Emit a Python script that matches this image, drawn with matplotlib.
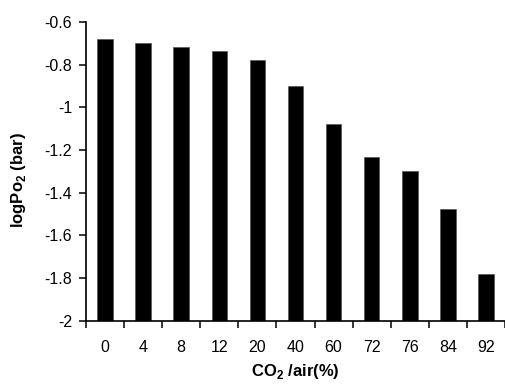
import matplotlib
matplotlib.use("Agg")
import matplotlib.pyplot as plt
import numpy as np

categories = ["0", "4", "8", "12", "20", "40", "60", "72", "76", "84", "92"]
values = [-0.68, -0.70, -0.72, -0.735, -0.78, -0.90, -1.08, -1.234, -1.30, -1.478, -1.78]
yticks = [-2, -1.8, -1.6, -1.4, -1.2, -1, -0.8, -0.6]
ytick_labels = ["-2", "-1.8", "-1.6", "-1.4", "-1.2", "-1", "-0.8", "-0.6"]

plt.rcParams['font.family'] = ['Liberation Sans', 'DejaVu Sans']
plt.rcParams['mathtext.fontset'] = 'custom'
plt.rcParams['mathtext.rm'] = 'Liberation Sans'
plt.rcParams['mathtext.bf'] = 'Liberation Sans:bold'

fig = plt.figure(figsize=(5.06, 3.84), dpi=100)
ax = fig.add_axes([0.170, 0.165, 0.828, 0.778])

base = -2.0
x = np.arange(len(categories))
heights = [v - base for v in values]
ax.bar(x, heights, bottom=base, width=0.41, color="black", edgecolor="#555555", linewidth=0.5)

ax.set_xlim(-0.5, len(categories) - 0.5)
ax.set_ylim(-2, -0.6)
ax.set_yticks(yticks)
ax.set_yticklabels(ytick_labels)

ax.set_xticks(np.arange(len(categories) + 1) - 0.5)
ax.set_xticklabels([])
ax.set_xticks(x, minor=True)
ax.set_xticklabels(categories, minor=True)
ax.tick_params(axis='x', which='major', direction='out', length=5, width=1.1)
ax.tick_params(axis='x', which='minor', length=0, pad=14, labelsize=11.5)
ax.tick_params(axis='y', direction='out', length=5, width=1.1, pad=5, labelsize=11.5)

for s in ['top', 'right']:
    ax.spines[s].set_visible(False)
for s in ['left', 'bottom']:
    ax.spines[s].set_linewidth(1.2)

ax.set_ylabel(r"logPo$_\mathbf{2}$ (bar)", fontsize=12, fontweight='bold')
ax.yaxis.set_label_coords(-0.138, 0.47)
ax.set_xlabel(r"CO$_\mathbf{2}$ /air(%)", fontsize=12, fontweight='bold', labelpad=5)

fig.savefig("out.png", dpi=100)
